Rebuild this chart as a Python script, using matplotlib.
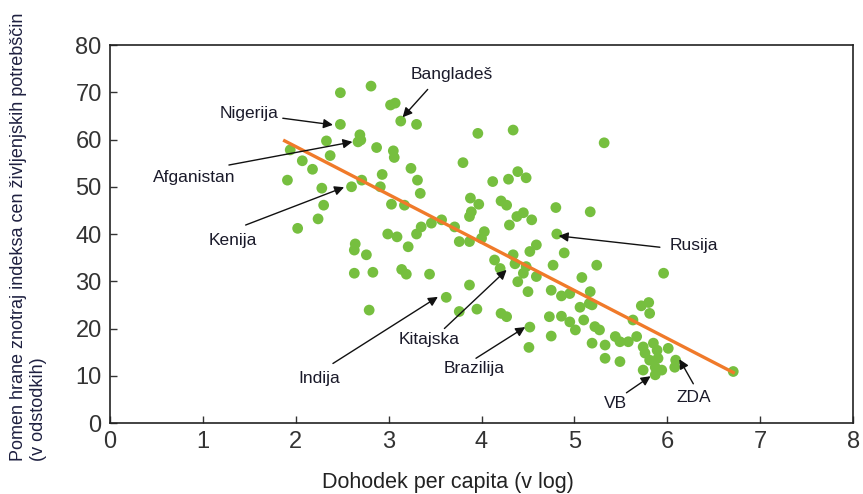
import matplotlib
matplotlib.use("Agg")
import matplotlib.pyplot as plt
import numpy as np

# log income per capita and food share of the CPI basket (percent)
income_log = [
    2.48, 2.81, 3.02, 3.07, 3.13, 3.30, 2.48, 2.69, 2.70, 2.67,
    2.33, 2.87, 3.05, 3.06, 1.94, 2.37, 2.07, 2.18, 3.24, 1.91,
    2.93, 2.71, 3.31, 2.28, 2.60, 2.91, 3.34, 2.30, 3.03, 3.17,
    2.24, 2.02, 2.99, 3.09, 3.21, 3.30, 2.64, 2.63, 2.76, 2.63,
    2.83, 3.14, 3.19, 3.44, 2.79, 3.96, 4.34, 3.80, 4.12, 4.29,
    4.39, 4.48, 3.88, 3.97, 3.89, 3.87, 4.21, 4.27, 4.38, 4.45,
    4.54, 4.30, 4.80, 3.46, 3.57, 3.71, 3.35, 3.76, 3.87, 4.00,
    4.03, 4.81, 4.14, 4.34, 4.36, 4.59, 4.52, 4.77, 4.48, 4.45,
    4.59, 3.87, 3.62, 3.76, 3.95, 4.21, 4.27, 4.20, 4.39, 4.50,
    4.75, 4.52, 4.51, 4.73, 4.75, 4.86, 4.89, 5.08, 4.95, 4.86,
    5.06, 5.17, 4.95, 5.01, 5.10, 5.22, 5.19, 5.24, 5.16, 5.17,
    5.96, 5.19, 5.27, 5.33, 5.44, 5.49, 5.58, 5.67, 5.33, 5.49,
    5.72, 5.80, 5.81, 5.63, 5.74, 5.85, 5.89, 5.76, 6.01, 5.81,
    5.90, 5.87, 5.94, 5.74, 5.87, 6.09, 6.08, 6.71, 5.32,
]
food_share = [
    69.9, 71.3, 67.3, 67.7, 63.9, 63.2, 63.2, 61.0, 59.9, 59.5,
    59.7, 58.3, 57.6, 56.2, 57.8, 56.6, 55.5, 53.7, 53.9, 51.4,
    52.6, 51.4, 51.4, 49.7, 50.0, 50.0, 48.6, 46.1, 46.3, 46.1,
    43.2, 41.2, 40.0, 39.4, 37.3, 40.0, 37.9, 36.6, 35.6, 31.7,
    31.9, 32.5, 31.5, 31.5, 23.9, 61.3, 62.0, 55.1, 51.1, 51.6,
    53.2, 51.9, 47.6, 46.3, 44.7, 43.7, 47.0, 46.1, 43.7, 44.5,
    43.0, 41.9, 45.6, 42.3, 43.0, 41.5, 41.5, 38.4, 38.4, 39.1,
    40.5, 40.0, 34.5, 35.6, 33.7, 37.7, 36.3, 33.4, 33.1, 31.7,
    31.0, 29.2, 26.6, 23.6, 24.1, 23.2, 22.5, 32.7, 29.9, 27.8,
    28.1, 20.3, 16.0, 22.5, 18.4, 22.6, 36.0, 30.8, 27.4, 26.9,
    24.5, 27.8, 21.4, 19.7, 21.8, 20.4, 16.9, 33.4, 25.3, 44.7,
    31.7, 25.0, 19.7, 16.5, 18.3, 17.2, 17.2, 18.3, 13.7, 13.0,
    24.8, 25.5, 23.2, 21.8, 16.1, 16.9, 15.4, 14.8, 15.8, 13.3,
    13.7, 11.8, 11.2, 11.2, 10.2, 13.3, 11.8, 10.9, 59.3,
]

# fitted trend: share = fit_intercept + fit_slope * income
fit_intercept = 78.8
fit_slope = -10.15
fit_range = [1.88, 6.71]

# labelled countries: name, point the arrow goes to, arrow tail, text centre
countries = ["Bangladeš", "Nigerija", "Afganistan", "Kenija", "Indija",
             "Kitajska", "Brazilija", "Rusija", "VB", "ZDA"]
arrow_head = [(3.15, 64.7), (2.40, 63.1), (2.61, 59.5), (2.52, 49.9), (3.53, 26.7),
              (4.27, 32.4), (4.47, 20.3), (4.83, 39.6), (5.82, 9.9), (6.13, 13.5)]
arrow_tail = [(3.42, 70.6), (1.86, 64.5), (1.28, 54.6), (1.46, 41.9), (2.40, 12.6),
              (3.60, 20.0), (3.94, 13.7), (5.92, 37.2), (5.56, 6.4), (6.28, 8.3)]
label_pos = [(3.68, 73.7), (1.50, 65.6), (0.91, 51.9), (1.32, 38.7), (2.25, 9.5),
             (3.44, 17.6), (3.92, 11.6), (6.29, 37.5), (5.44, 4.2), (6.28, 5.5)]

plt.rcParams['font.family'] = ['Liberation Sans', 'DejaVu Sans']

fig = plt.figure(figsize=(8.63, 4.94), dpi=100)
ax = fig.add_axes([0.1275, 0.1437, 0.861, 0.7652])

ax.scatter(income_log, food_share, s=60, color='#76bf3f', edgecolors='none', zorder=2)

xs = np.array(fit_range)
ax.plot(xs, fit_intercept + fit_slope * xs, color='#f07a2a', lw=2.4, zorder=3)

for name, head, tail, pos in zip(countries, arrow_head, arrow_tail, label_pos):
    ax.annotate('', xy=head, xytext=tail,
                arrowprops=dict(arrowstyle='-|>', color='#111111', lw=1.0,
                                mutation_scale=14, shrinkA=0, shrinkB=0),
                zorder=4)
    ax.text(pos[0], pos[1], name, fontsize=12.5, color='#1a1a2a',
            ha='center', va='center', zorder=5)

ax.set_xlim(0, 8)
ax.set_ylim(0, 80)
ax.set_xticks(range(0, 9))
ax.set_yticks(range(0, 81, 10))
ax.tick_params(direction='in', length=5, width=1, labelsize=17,
               labelcolor='#333333', color='#333333')
ax.tick_params(axis='y', pad=6)
ax.tick_params(axis='x', pad=6)
for sp in ax.spines.values():
    sp.set_linewidth(1.2)
    sp.set_color('#222222')

ax.set_xlabel('Dohodek per capita (v log)', fontsize=15.5, color='#222222', labelpad=10)
ax.xaxis.set_label_coords(0.455, -0.13)
ax.set_ylabel('Pomen hrane znotraj indeksa cen življenjskih potrebščin\n(v odstodkih)',
              fontsize=13, color='#1e2040', multialignment='left', linespacing=1.2)
ax.yaxis.set_label_coords(-0.085, 0.493)

fig.savefig('out.png', dpi=100)
